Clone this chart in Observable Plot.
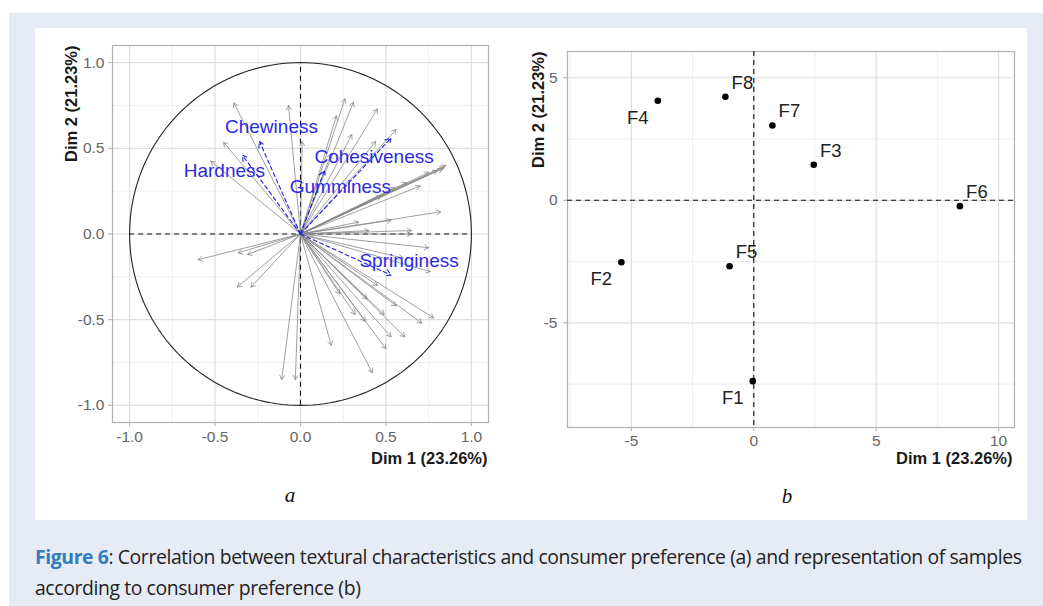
<!DOCTYPE html>
<html><head><meta charset="utf-8">
<script src="https://cdn.jsdelivr.net/npm/d3@7"></script>
<script src="https://cdn.jsdelivr.net/npm/@observablehq/plot@0.6"></script>
<style>
html,body{margin:0;padding:0}
body{background:#fff;width:1043px;height:606px;overflow:hidden;position:relative;font-family:"Liberation Sans",Arial,sans-serif}
#bg{position:absolute;left:9px;top:13px;width:1034px;height:593px;background:#e7ebf6}
#panel{position:absolute;left:35px;top:28px;width:992px;height:492px;background:#fff}
#left,#right{position:absolute}
#left{left:35px;top:28px}
#right{left:505px;top:28px}
.sub{position:absolute;font-family:"Liberation Serif","DejaVu Serif",serif;font-style:italic;font-size:21px;color:#111;transform:translate(-50%,-50%)}
#caption{position:absolute;left:35px;top:541px;width:1008px;white-space:nowrap;font-family:"Open Sans",sans-serif;font-size:19.4px;line-height:31px;color:#222;letter-spacing:-0.4px}
#caption b{color:#2f7dc0}
</style>
</head><body>
<div id="bg"></div>
<div id="panel"></div>
<div id="left"></div>
<div id="right"></div>
<div class="sub" style="left:290px;top:495px">a</div>
<div class="sub" style="left:787px;top:496px">b</div>
<div id="caption"><b>Figure 6</b>: Correlation between textural characteristics and consumer preference (a) and representation of samples<br>according to consumer preference (b)</div>
<script>
// ---- data: consumer preference variables (correlations with Dim 1, Dim 2) ----
const consumerDim1 = [-0.39,-0.45,-0.525,-0.07,0.01,
  0.26,0.31,0.21,0.45,0.56,0.44,0.18,0.30,
  0.85,0.84,0.83,0.80,0.75,0.70,0.55,0.62,0.47,0.82,0.53,0.34,0.65,0.40,
  -0.60,-0.365,-0.31,-0.37,-0.29,-0.11,-0.03,
  0.18,0.42,0.50,0.53,0.61,0.71,0.78,0.49,0.38,0.32,0.39,0.56,0.23,0.75,0.76,0.65,0.60,0.45];
const consumerDim2 = [0.765,0.535,0.425,0.75,0.54,
  0.79,0.77,0.69,0.73,0.61,0.54,0.47,0.58,
  0.40,0.39,0.38,0.37,0.36,0.28,0.27,0.30,0.22,0.13,0.08,0.07,0.0,0.02,
  -0.15,-0.11,-0.12,-0.31,-0.31,-0.85,-0.85,
  -0.65,-0.81,-0.67,-0.60,-0.60,-0.52,-0.49,-0.47,-0.51,-0.47,-0.38,-0.42,-0.35,-0.08,-0.22,0.02,-0.14,-0.30];
// ---- data: supplementary textural variables ----
const textureNames = ["Hardness","Chewiness","Cohesiveness","Gumminess","Springiness"];
const textureDim1 = [-0.34,-0.24,0.53,0.14,0.53];
const textureDim2 = [0.46,0.54,0.56,0.37,-0.24];
// ---- data: samples ----
const sampleNames = ["F1","F2","F3","F4","F5","F6","F7","F8"];
const sampleDim1 = [-0.04,-5.41,2.45,-3.92,-0.99,8.42,0.76,-1.16];
const sampleDim2 = [-7.38,-2.53,1.45,4.06,-2.69,-0.24,3.05,4.22];
const sampleLabelSide = ["below-left","below-left","above-right","below-left","above-right","above-right","above-right","above-right"];
// ---- ticks / labels ----
const leftMajor = [-1,-0.5,0,0.5,1];
const leftMinor = [-0.75,-0.25,0.25,0.75];
const rightXMajor = [-5,0,5,10];
const rightXMinor = [-7.5,-2.5,2.5,7.5];
const rightYMajor = [-5,0,5];
const rightYMinor = [-7.5,-2.5,2.5];
const xTitle = "Dim 1 (23.26%)";
const yTitle = "Dim 2 (21.23%)";

const consumer = consumerDim1.map((x,i)=>({x, y: consumerDim2[i]}));
const texture = textureNames.map((name,i)=>({name, x: textureDim1[i], y: textureDim2[i]}));
const samples = sampleNames.map((name,i)=>({name, x: sampleDim1[i], y: sampleDim2[i], side: sampleLabelSide[i]}));

const gridMajor = "#dedede", gridMinor = "#eeeeee", border = "#b0b0b0", tickText = "#666666";
const font = "Liberation Sans, Arial, sans-serif";
const tickFont = 15.5, titleFont = 16.5;

// label offsets (pixels) for the textural variable names
const textureOffsets = {Hardness:[-18,16], Chewiness:[12,-15], Cohesiveness:[-17,19], Gumminess:[16,16], Springiness:[18,-14]};

const circle = d3.range(0, 361, 2).map(a => ({x: Math.cos(a*Math.PI/180), y: Math.sin(a*Math.PI/180)}));

const leftPlot = Plot.plot({
  width: 465, height: 460,
  marginLeft: 77, marginRight: 12, marginTop: 17, marginBottom: 66,
  x: {domain: [-1.1, 1.1]}, y: {domain: [-1.1, 1.1]},
  style: {fontFamily: font, fontSize: tickFont + "px", background: "transparent", overflow: "visible"},
  marks: [
    Plot.ruleX(leftMinor, {stroke: gridMinor, strokeWidth: 1}),
    Plot.ruleY(leftMinor, {stroke: gridMinor, strokeWidth: 1}),
    Plot.ruleX(leftMajor, {stroke: gridMajor, strokeWidth: 1.2}),
    Plot.ruleY(leftMajor, {stroke: gridMajor, strokeWidth: 1.2}),
    Plot.frame({stroke: border, strokeWidth: 1.2}),
    Plot.axisX({ticks: leftMajor, tickFormat: d => d.toFixed(1), tickSize: 4, tickPadding: 4, stroke: border, fill: tickText, fontSize: tickFont, label: null}),
    Plot.axisY({ticks: leftMajor, tickFormat: d => d.toFixed(1), tickSize: 4, tickPadding: 4, stroke: border, fill: tickText, fontSize: tickFont, label: null}),
    Plot.line(circle, {x: "x", y: "y", stroke: "#222", strokeWidth: 1.1}),
    Plot.ruleY([0], {x1: -1, x2: 1, stroke: "#111", strokeDasharray: "5,4", strokeWidth: 1.1}),
    Plot.ruleX([0], {y1: -1, y2: 1, stroke: "#111", strokeDasharray: "5,4", strokeWidth: 1.1}),
    Plot.arrow(consumer, {x1: () => 0, y1: () => 0, x2: "x", y2: "y", stroke: "#888888", strokeWidth: 0.8, headLength: 9, headAngle: 60}),
    Plot.arrow(texture, {x1: () => 0, y1: () => 0, x2: "x", y2: "y", stroke: "#1f1fe0", strokeWidth: 1.1, strokeDasharray: "4,3", headLength: 9, headAngle: 60}),
    ...texture.map(t => Plot.text([t], {x: "x", y: "y", text: "name", dx: textureOffsets[t.name][0], dy: textureOffsets[t.name][1], fill: "#2b2be6", fontSize: 19})),
    Plot.text([xTitle], {text: d => d, frameAnchor: "bottom-right", textAnchor: "end", dx: -1, dy: 41, fontWeight: "bold", fontSize: titleFont, fill: "#1a1a1a"}),
    Plot.text([yTitle], {text: d => d, frameAnchor: "top-left", textAnchor: "end", rotate: -90, dx: -47, dy: 0, fontWeight: "bold", fontSize: titleFont, fill: "#1a1a1a"})
  ]
});
document.getElementById("left").appendChild(leftPlot);

const sideOffset = {"above-right": [17,-14], "below-left": [-20,17]};
const rightPlot = Plot.plot({
  width: 521, height: 460,
  marginLeft: 62, marginRight: 12, marginTop: 23, marginBottom: 61,
  x: {domain: [-7.61, 10.65]}, y: {domain: [-9.27, 6.07]},
  style: {fontFamily: font, fontSize: tickFont + "px", background: "transparent", overflow: "visible"},
  marks: [
    Plot.ruleX(rightXMinor, {stroke: gridMinor, strokeWidth: 1}),
    Plot.ruleY(rightYMinor, {stroke: gridMinor, strokeWidth: 1}),
    Plot.ruleX(rightXMajor, {stroke: gridMajor, strokeWidth: 1.2}),
    Plot.ruleY(rightYMajor, {stroke: gridMajor, strokeWidth: 1.2}),
    Plot.frame({stroke: border, strokeWidth: 1.2}),
    Plot.axisX({ticks: rightXMajor, tickFormat: d => String(d), tickSize: 4, tickPadding: 3, stroke: border, fill: tickText, fontSize: tickFont, label: null}),
    Plot.axisY({ticks: rightYMajor, tickFormat: d => String(d), tickSize: 4, tickPadding: 6, stroke: border, fill: tickText, fontSize: tickFont, label: null}),
    Plot.ruleY([0], {stroke: "#111", strokeDasharray: "5,4", strokeWidth: 1.1}),
    Plot.ruleX([0], {stroke: "#111", strokeDasharray: "5,4", strokeWidth: 1.1}),
    Plot.dot(samples, {x: "x", y: "y", r: 3.3, fill: "#000", stroke: "none"}),
    ...Object.keys(sideOffset).map(side => Plot.text(samples.filter(d => d.side === side), {x: "x", y: "y", text: "name", dx: sideOffset[side][0], dy: sideOffset[side][1], fill: "#222", fontSize: 18.5})),
    Plot.text([xTitle], {text: d => d, frameAnchor: "bottom-right", textAnchor: "end", dx: -2, dy: 36, fontWeight: "bold", fontSize: titleFont, fill: "#1a1a1a"}),
    Plot.text([yTitle], {text: d => d, frameAnchor: "top-left", textAnchor: "end", rotate: -90, dx: -35, dy: 0, fontWeight: "bold", fontSize: titleFont, fill: "#1a1a1a"})
  ]
});
document.getElementById("right").appendChild(rightPlot);
</script>
</body></html>
